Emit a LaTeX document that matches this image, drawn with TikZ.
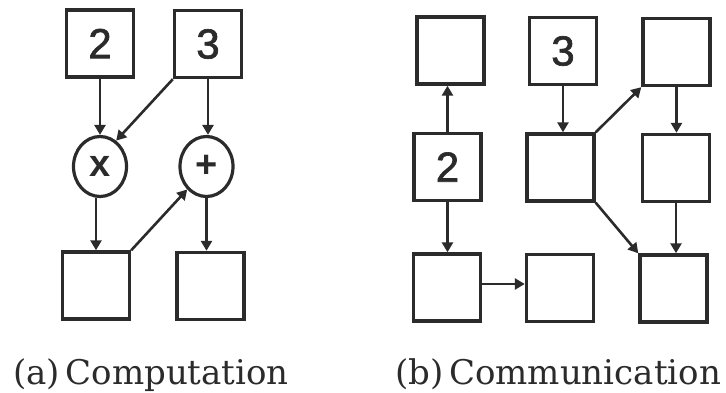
\documentclass[tikz,border=0pt]{standalone}
\usepackage{fontspec}
\setmainfont{DejaVu Serif}
\newfontfamily\digitfont[FakeBold=1.6]{Liberation Sans}
\newfontfamily\opfont{Liberation Sans}
\usetikzlibrary{arrows.meta,shapes.geometric}
\definecolor{ink}{HTML}{2B2B2B}
\begin{document}
\begin{tikzpicture}[x=1pt,y=-1pt,
  cell/.style={draw=ink,line width=3.4pt,minimum width=67pt,minimum height=67pt,
    inner sep=0pt,font=\digitfont\fontsize{42}{42}\selectfont,text=ink},
  opnode/.style={ellipse,draw=ink,line width=3.2pt,minimum width=53pt,minimum height=60pt,
    inner sep=0pt,font=\opfont\bfseries\fontsize{38}{38}\selectfont,text=ink},
  arr/.style={draw=ink,line width=2.6pt,-{Triangle[length=10pt,width=11pt]}},
  caption/.style={anchor=base west,inner sep=0pt,text=ink,font=\fontsize{34}{34}\selectfont}]
\path[use as bounding box] (0,0) rectangle (726,392);

% (a) computation graph
\node[cell] (a2) at (100,43.5) {2};
\node[cell] (a3) at (208,44) {3};
\node[opnode] (mul) at (100,166.5) {x};
\node[opnode] (add) at (206.5,166.5) {+};
\node[cell] (a4) at (96,285.5) {};
\node[cell] (a5) at (210.5,286) {};

\draw[arr] (a2.south) -- (a2.south |- mul.north);
\draw[arr] (a3.south west) -- (mul.58);
\draw[arr] (a3.south) -- (a3.south |- add.north);
\draw[arr] (a4.north |- mul.south) -- (a4.north);
\draw[arr] (a4.north east) -- (add.230);
\draw[arr] (add.south) -- (add.south |- a5.north);

\node[caption] (capa) at (13,384) {(a)\,Computation};

% (b) communication graph
\node[cell] (b1) at (450.5,50.5) {};
\node[cell] (b3) at (563,51) {3};
\node[cell] (b5) at (676.5,52) {};
\node[cell] (b2) at (447.5,167) {2};
\node[cell] (bm) at (560.5,167.5) {};
\node[cell] (b6) at (676,168) {};
\node[cell] (c1) at (447,287.5) {};
\node[cell] (c2) at (560,288) {};
\node[cell] (c3) at (673.5,288.5) {};

\draw[arr] (b2.north) -- (b2.north |- b1.south);
\draw[arr] (b2.south) -- (b2.south |- c1.north);
\draw[arr] (b3.south) -- (b3.south |- bm.north);
\draw[arr] (bm.north east) -- (b5.south west);
\draw[arr] (bm.south east) -- (c3.north west);
\draw[arr] (b5.south) -- (b5.south |- b6.north);
\draw[arr] (b6.south) -- (b6.south |- c3.north);
\draw[arr] ([yshift=3.5pt]c1.east) -- ([yshift=3.5pt]c1.east -| c2.west);

\node[caption] (capb) at (395,384) {(b)\,Communication};
\end{tikzpicture}
\end{document}
